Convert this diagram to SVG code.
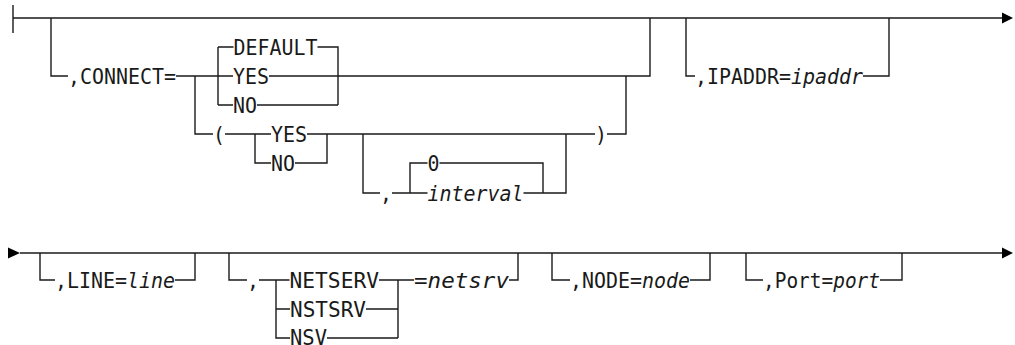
<svg xmlns="http://www.w3.org/2000/svg" width="1015" height="345" viewBox="0 0 1015 345">
<style>
.ln{fill:none;stroke:#1a1a1a;stroke-width:1.4}
.ah{fill:#000}
text{font-family:"DejaVu Sans Mono","Liberation Mono",monospace;font-size:22px;fill:#1a1a1a}
.v{font-style:italic}
</style>
<g id="connectors">
<path class="ln" d="M13,5 V33 M13,18 H1002"/>
<polygon class="ah" points="1002,12.5 1013,18 1002,23.5"/>
<path class="ln" d="M51,18 V76 H68 M176,76 H233 M269,76 H650 V18"/>
<path class="ln" d="M218,47 V105 M218,47 H233.5 M317.5,47 H338 V105 M218,105 H233 M257,105 H338"/>
<path class="ln" d="M195,76 V134 H213 M225,134 H271 M307,134 H595 M607,134 H626 V76"/>
<path class="ln" d="M255,134 V163 H271 M295,163 H327 V134"/>
<path class="ln" d="M363,134 V193 H380 M392,193 H427.5 M410,193 V163 H427.5 M439.5,163 H543 V193 M523.5,193 H566 V134"/>
<path class="ln" d="M686,18 V76 H695 M863,76 H889 V18"/>
<polygon class="ah" points="8,247.5 20,253 8,258.5"/>
<path class="ln" d="M20,253 H1002"/>
<polygon class="ah" points="1002,247.5 1013,253 1002,258.5"/>
<path class="ln" d="M40,253 V280 H55 M175,280 H195 V253"/>
<path class="ln" d="M229,253 V280 H247 M259,280 H289.5 M276,280 V338 H290 M276,309 H290 M379,280 H414 M366,309 H398 M327,338 H398 M398,280 V338 M509,280 H518 V253"/>
<path class="ln" d="M552,253 V280 H570 M690,280 H710 V253"/>
<path class="ln" d="M746,253 V280 H763 M880,280 H902 V253"/>
</g>
<g id="connect"><text x="68" y="84" textLength="108" lengthAdjust="spacingAndGlyphs">,CONNECT=</text></g>
<g id="default"><text x="233.5" y="55" textLength="84" lengthAdjust="spacingAndGlyphs">DEFAULT</text></g>
<g id="yes1"><text x="233" y="84" textLength="36" lengthAdjust="spacingAndGlyphs">YES</text></g>
<g id="no1"><text x="233" y="113" textLength="24" lengthAdjust="spacingAndGlyphs">NO</text></g>
<g id="lparen"><text x="213" y="142" textLength="12" lengthAdjust="spacingAndGlyphs">(</text></g>
<g id="yes2"><text x="271" y="142" textLength="36" lengthAdjust="spacingAndGlyphs">YES</text></g>
<g id="no2"><text x="271" y="171" textLength="24" lengthAdjust="spacingAndGlyphs">NO</text></g>
<g id="comma1"><text x="380" y="201" textLength="12" lengthAdjust="spacingAndGlyphs">,</text></g>
<g id="zero"><text x="427.5" y="171" textLength="12" lengthAdjust="spacingAndGlyphs">0</text></g>
<g id="interval"><text class="v" x="427.5" y="201" textLength="96" lengthAdjust="spacingAndGlyphs">interval</text></g>
<g id="rparen"><text x="595" y="142" textLength="12" lengthAdjust="spacingAndGlyphs">)</text></g>
<g id="ipaddr"><text x="695" y="84" textLength="168" lengthAdjust="spacingAndGlyphs">,IPADDR=<tspan class="v">ipaddr</tspan></text></g>
<g id="line"><text x="55" y="288" textLength="120" lengthAdjust="spacingAndGlyphs">,LINE=<tspan class="v">line</tspan></text></g>
<g id="comma2"><text x="247" y="288" textLength="12" lengthAdjust="spacingAndGlyphs">,</text></g>
<g id="netserv"><text x="289.5" y="288" textLength="89.5" lengthAdjust="spacingAndGlyphs">NETSERV</text></g>
<g id="nstsrv"><text x="290" y="317" textLength="76" lengthAdjust="spacingAndGlyphs">NSTSRV</text></g>
<g id="nsv"><text x="290" y="345" textLength="37" lengthAdjust="spacingAndGlyphs">NSV</text></g>
<g id="netsrv"><text class="v" x="414" y="288" textLength="95" lengthAdjust="spacingAndGlyphs">=netsrv</text></g>
<g id="node"><text x="570" y="288" textLength="120" lengthAdjust="spacingAndGlyphs">,NODE=<tspan class="v">node</tspan></text></g>
<g id="port"><text x="763" y="288" textLength="117" lengthAdjust="spacingAndGlyphs">,Port=<tspan class="v">port</tspan></text></g>
</svg>
